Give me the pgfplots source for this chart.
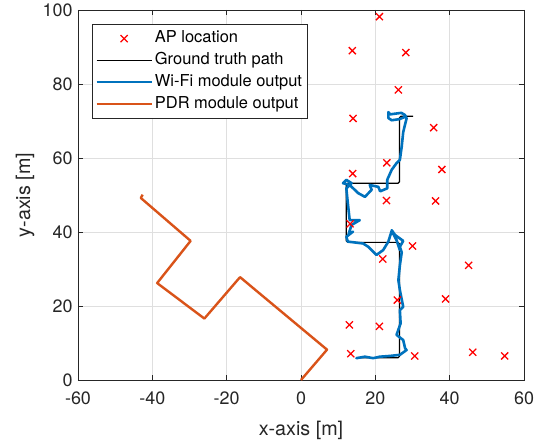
\documentclass[border=0pt]{standalone}
\usepackage{fontspec}
\setmainfont{TeX Gyre Heros}
\usepackage{pgfplots}
\pgfplotsset{compat=1.18}
\definecolor{mblue}{rgb}{0,0.447,0.741}
\definecolor{morange}{rgb}{0.85,0.325,0.098}
\definecolor{axgray}{rgb}{0.15,0.15,0.15}
\definecolor{gridgray}{rgb}{0.875,0.875,0.875}
\pgfplotsset{
  lineleg/.style={legend image code/.code={\draw[##1,line cap=butt] (0bp,0bp) -- (55bp,0bp);}},
  markleg/.style={legend image code/.code={\draw[##1] plot coordinates {(27.5bp,0bp)};}},
}
\begin{document}
\begin{tikzpicture}
\begin{axis}[
  scale only axis, width=446bp, height=370bp,
  xmin=-60, xmax=60, ymin=0, ymax=100,
  xtick={-60,-40,-20,0,20,40,60}, ytick={0,20,40,60,80,100},
  xticklabels={-60,-40,-20,0,20,40,60},
  yticklabels={0,20,40,60,80,100},
  tick align=inside, major tick length=5bp,
  axis line style={axgray, line width=0.7bp},
  tick style={axgray, line width=0.7bp},
  grid=major, grid style={gridgray, line width=0.7bp},
  ticklabel style={font=\fontsize{18}{20}\selectfont, text=axgray},
  xticklabel style={yshift=-8bp},
  yticklabel style={xshift=-2bp},
  xlabel={x-axis [m]}, ylabel={y-axis [m]},
  label style={font=\fontsize{19.8}{22}\selectfont, text=axgray},
  xlabel style={at={(axis description cs:0.5,-0.1351)}, anchor=center},
  ylabel style={at={(axis description cs:-0.1188,0.5)}, anchor=center},
  legend style={at={(axis description cs:0.0314,0.962)}, anchor=north west,
    font=\fontsize{16.5}{18}\selectfont, draw=axgray, line width=0.7bp,
    inner xsep=3bp, inner ysep=4.5bp,
    nodes={text height=12bp, text depth=3.5bp, inner sep=2bp},
    row sep=2.2bp},
  legend cell align=left,
]
\coordinate (SW) at (rel axis cs:0,0);
\coordinate (NE) at (rel axis cs:1,1);
\addplot[only marks, mark=x, mark size=5bp, red, mark options={line width=1.3bp}, markleg]
  coordinates {
  (21.1,98.2) (13.8,89.0) (28.2,88.5) (26.2,78.4) (14.0,70.7) (35.7,68.2)
  (37.9,56.9) (23.1,58.7) (13.9,55.8) (23.0,48.5) (36.2,48.4) (13.2,42.2)
  (30.0,36.2) (22.0,32.7) (45.1,31.0) (25.9,21.6) (38.9,21.9) (13.0,14.9)
  (21.1,14.5) (13.4,7.1) (30.6,6.5) (46.2,7.5) (54.8,6.5)
  };
\addlegendentry{AP location}
\addplot[black, line width=1.2bp, rounded corners=1.5bp, lineleg]
  coordinates {
  (15.8,6.0) (26.5,6.0) (26.5,37.2) (12.2,37.2) (12.2,53.2) (26.5,53.2)
  (26.5,71.3) (30.2,71.3)
  };
\addlegendentry{Ground truth path}
\addplot[mblue, line width=2.6bp, line join=round, line cap=round, lineleg]
  coordinates {
  (14.9,5.9) (17.2,6.3) (19.4,5.9) (21.2,6.3) (23.9,6.5) (26.6,6.8)
  (28.4,8.1) (28.0,8.6) (27.5,10.8) (25.7,12.2) (26.8,15.3) (26.6,18.9)
  (27.5,19.8) (26.6,24.3) (26.2,27.0) (26.6,31.0) (27.1,34.5) (26.6,36.0)
  (27.5,37.6) (25.3,39.2) (24.4,40.5) (25.7,37.8) (26.6,35.1) (25.7,37.8)
  (24.4,40.3) (23.5,37.4) (22.1,35.1) (20.3,33.8) (18.1,36.0) (16.7,36.9)
  (12.6,37.4) (12.2,38.7) (14.0,40.1) (12.8,39.4) (13.6,41.9) (15.8,43.2)
  (13.1,43.2) (12.6,47.8) (12.2,51.8) (13.6,53.2) (12.2,54.1) (11.3,53.2)
  (13.1,52.7) (15.4,50.5) (17.2,49.5) (19.0,51.4) (18.5,52.7) (20.8,52.2)
  (21.3,51.0) (23.2,51.8) (23.2,54.1) (24.4,56.8) (25.7,58.6) (26.6,59.5)
  (27.1,63.1) (27.5,67.0) (28.4,70.7) (28.0,71.6) (27.0,72.2) (24.0,71.8)
  (23.5,72.4) (23.5,70.8) (24.4,70.2) (26.5,70.5) (28.2,71.2)
  };
\addlegendentry{Wi-Fi module output}
\addplot[morange, line width=2.4bp, line join=round, lineleg]
  coordinates {
  (0,0) (7.0,8.2) (-16.4,27.8) (-26.0,16.6) (-38.7,26.2) (-29.7,37.6)
  (-43.1,49.2) (-42.6,50.1)
  };
\addlegendentry{PDR module output}
\end{axis}
\path ([xshift=-78bp,yshift=-65bp]SW) rectangle ([xshift=22bp,yshift=10bp]NE);
\end{tikzpicture}
\end{document}
